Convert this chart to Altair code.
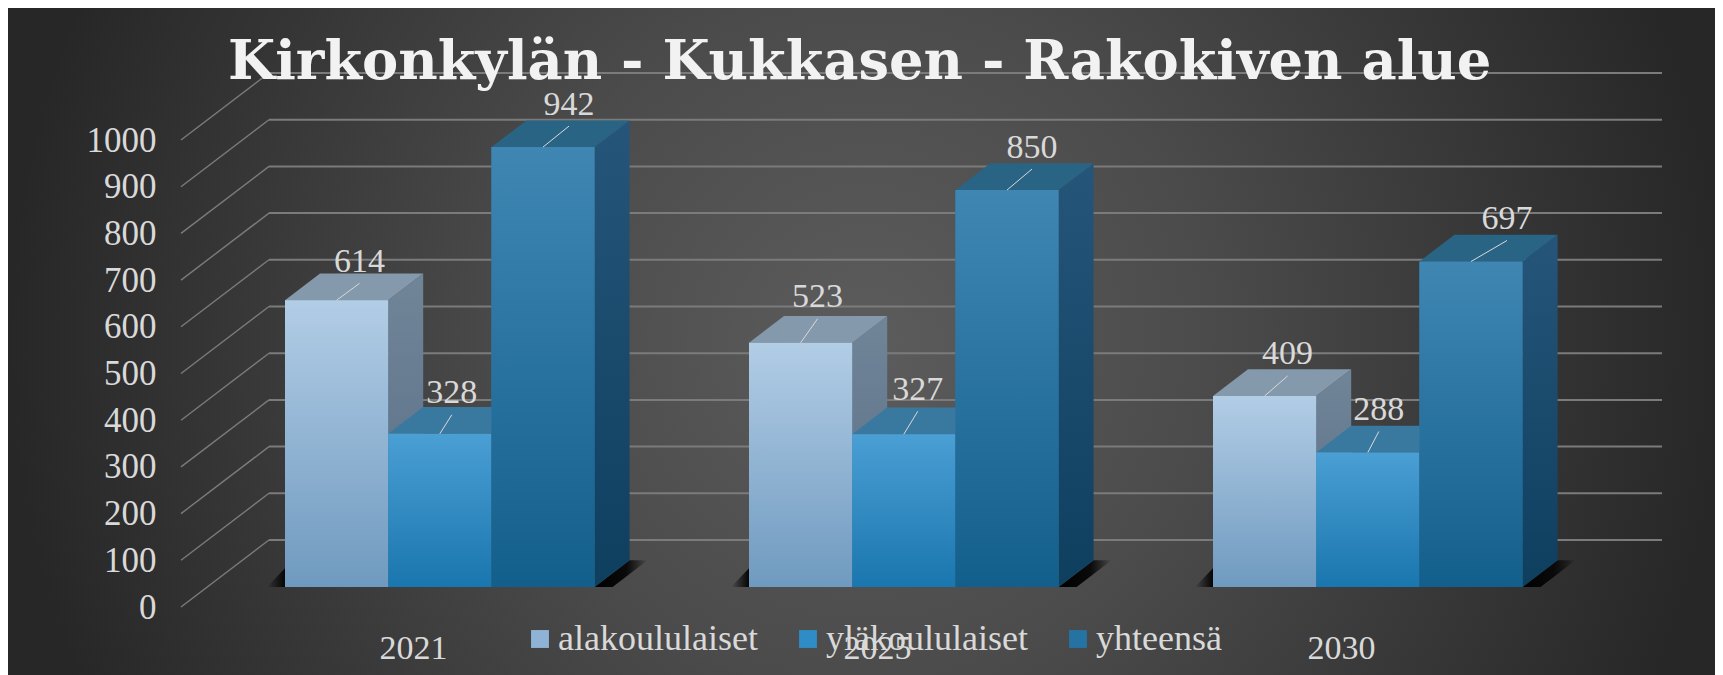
import altair as alt
import pandas as pd

categories = ["2021", "2025", "2030"]
series = ["alakoululaiset", "yläkoululaiset", "yhteensä"]
alakoulu = [614, 523, 409]
ylakoulu = [328, 327, 288]
yhteensa = [942, 850, 697]
ticks = [0, 100, 200, 300, 400, 500, 600, 700, 800, 900, 1000]
values = [alakoulu, ylakoulu, yhteensa]
title_text = "Kirkonkylän - Kukkasen - Rakokiven alue"

W, H = 1707, 667
BG_W = 1715
PX_X = 464.0      # pixels per category step
X0 = 405.0        # pixel of category 0's axis label
PX_V = 0.467      # pixels per value unit
BASE = 579.0      # pixel of the bars' baseline
BAR = 103.2 / PX_X
DX = 35.0 / PX_X
DV = 26.7 / PX_V
GROUP_LEFT = -128.0 / PX_X
BACK = 47.0 / PX_V
FRONT = -20.0 / PX_V
GRID_L, GRID_R = (261 - X0) / PX_X, (1654 - X0) / PX_X
DIAG_L = (173 - X0) / PX_X

x_scale = alt.Scale(domain=[-X0 / PX_X, (W - X0) / PX_X], range=[0, W], nice=False, zero=False)
plane = alt.Scale(domain=[0, 1000], range=[BASE, BASE - 467], nice=False, zero=False)
front_scale = alt.Scale(domain=[0, 1000], range=[599, 132], nice=False, zero=False)
color_scale = alt.Scale(domain=series, range=["#8fb3d6", "#2f8cc4", "#2473a3"])

TXT = "#d9d9d9"
FONT = "Liberation Serif"

def X(f="x", **k):
    return alt.X(f + ":Q", scale=x_scale, axis=None, **k)

def Y(f="y", **k):
    return alt.Y(f + ":Q", scale=plane, axis=None, **k)

def grad(c0, c1):
    return alt.LinearGradient(gradient="linear", x1=0, y1=0, x2=0, y2=1,
                              stops=[alt.GradientStop(offset=0, color=c0), alt.GradientStop(offset=1, color=c1)])

one = pd.DataFrame({"a": [0]})

bg = alt.Chart(one).mark_rect(
    clip=True,
    fill=alt.RadialGradient(gradient="radial", x1=0.5, y1=0.5, x2=0.5, y2=0.5, r1=0, r2=0.5,
                            stops=[alt.GradientStop(offset=0, color="#5c5c5c"),
                                   alt.GradientStop(offset=0.4, color="#4b4b4b"),
                                   alt.GradientStop(offset=1, color="#272727")])
).encode(x=alt.value(0), x2=alt.value(BG_W), y=alt.value(H / 2 - BG_W / 2), y2=alt.value(H / 2 + BG_W / 2))

tick_df = pd.DataFrame({"t": ticks})
grid = alt.Chart(tick_df).transform_calculate(
    y=f"datum.t + {BACK}", x=f"{GRID_L}", x1=f"{GRID_R}"
).mark_rule(color="#7b7b7b", strokeWidth=2).encode(x=X(), x2="x1:Q", y=Y())

diag_rows = []
for t in ticks:
    diag_rows.append({"t": t, "x": DIAG_L, "y": t + FRONT})
    diag_rows.append({"t": t, "x": GRID_L, "y": t + BACK})
diag = alt.Chart(pd.DataFrame(diag_rows)).mark_line(color="#7b7b7b", strokeWidth=1.4).encode(
    x=X(), y=Y(), detail="t:N")

# axis carriers: the real axes
axis_y = alt.Chart(tick_df).mark_point(opacity=0).encode(
    y=alt.Y("t:Q", scale=front_scale,
            axis=alt.Axis(values=ticks, title=None, domain=False, ticks=False, grid=False, offset=-148,
                          labelPadding=0, labelFont=FONT, labelFontSize=35, labelColor=TXT, format="d",
                          labelFlush=False, labelOverlap=False, labelBaseline="middle", zindex=1))
)
cat_df = pd.DataFrame({"i": [0, 1, 2], "y": [0, 0, 0]})
label_expr = "['" + "','".join(categories) + "'][datum.value]"
axis_x = alt.Chart(cat_df).mark_point(opacity=0).encode(
    x=alt.X("i:Q", scale=x_scale,
            axis=alt.Axis(values=[0, 1, 2], title=None, domain=False, ticks=False, grid=False, offset=-44,
                          labelPadding=0, labelFont=FONT, labelFontSize=34, labelColor=TXT, labelExpr=label_expr,
                          labelFlush=False, labelOverlap=False, labelAlign="center", zindex=2)),
    y=Y(),
)

# shadows on the floor
sh_r, sh_l = [], []
SW = 18.0 / PX_X
for i in range(3):
    r = i + GROUP_LEFT + 3 * BAR
    for px, top, bot in [(0, 0, 0), (SW, DV * SW / DX, 0), (DX, DV, DV * (DX - SW) / DX), (DX + SW, DV, DV)]:
        sh_r.append({"g": i, "x": r + px, "y": top, "y2": bot})
    l = i + GROUP_LEFT
    sh_l.append({"g": i, "x": l - 18 / PX_X, "y": 0, "y2": 0})
    sh_l.append({"g": i, "x": l, "y": 40, "y2": 0})
shadow_r = alt.Chart(pd.DataFrame(sh_r)).mark_area(
    fill=alt.LinearGradient(gradient="linear", x1=0, y1=0, x2=1, y2=0,
                            stops=[alt.GradientStop(offset=0, color="#000000"),
                                   alt.GradientStop(offset=0.6, color="#0a0a0a"),
                                   alt.GradientStop(offset=1, color="rgba(0,0,0,0)")])
).encode(x=X(), y=Y(), y2="y2:Q", detail="g:N")
shadow_l = alt.Chart(pd.DataFrame(sh_l)).mark_area(
    fill=alt.LinearGradient(gradient="linear", x1=0, y1=0, x2=1, y2=0,
                            stops=[alt.GradientStop(offset=0, color="rgba(0,0,0,0)"),
                                   alt.GradientStop(offset=1, color="#050505")])
).encode(x=X(), y=Y(), y2="y2:Q", detail="g:N")

front_cols = [("#b2cde6", "#6f9abf"), ("#4a9fd4", "#1a76ae"), ("#3f86b3", "#135f8c")]
side_cols = [("#718598", "#566d86"), ("#2a6f9c", "#1c5c85"), ("#25567a", "#0e3f5f")]
top_cols = ["#8499ac", "#3a799f", "#2a6485"]

bars, sides, tops = [], [], []
for s, vals in enumerate(values):
    for i, v in enumerate(vals):
        l = i + GROUP_LEFT + s * BAR
        r = l + BAR
        bars.append({"cat": categories[i], "series": series[s], "s": s, "i": i, "x": l, "x1": r, "v": v, "zero": 0})
        sides.append({"s": s, "i": i, "x": r, "y": v, "y2": 0})
        sides.append({"s": s, "i": i, "x": r + DX, "y": v + DV, "y2": DV})
        tops.append({"s": s, "i": i, "x": l, "y": v, "y2": v})
        tops.append({"s": s, "i": i, "x": l + DX, "y": v + DV, "y2": v})
        tops.append({"s": s, "i": i, "x": r, "y": v + DV, "y2": v})
        tops.append({"s": s, "i": i, "x": r + DX, "y": v + DV, "y2": v + DV})
bars_df = pd.DataFrame(bars)
sides_df = pd.DataFrame(sides)
tops_df = pd.DataFrame(tops)

solid = alt.Chart(bars_df).mark_rect().encode(
    x=X(), x2="x1:Q", y=Y("v"), y2="zero:Q",
    color=alt.Color("series:N", scale=color_scale, sort=series,
                    legend=alt.Legend(orient="none", legendX=514, legendY=613, direction="horizontal", title=None,
                                      symbolType="square", symbolSize=320, symbolStrokeWidth=0,
                                      labelFont=FONT, labelFontSize=36, labelColor=TXT, columnPadding=32,
                                      labelOffset=0, labelLimit=400, zindex=1, padding=0)),
)

face_layers = []
for s in range(3):
    face_layers.append(alt.Chart(sides_df[sides_df.s == s]).mark_area(fill=grad(*side_cols[s])).encode(
        x=X(), y=Y(), y2="y2:Q", detail="i:N"))
    face_layers.append(alt.Chart(tops_df[tops_df.s == s]).mark_area(fill=top_cols[s]).encode(
        x=X(), y=Y(), y2="y2:Q", detail="i:N"))

front_layers = []
for s in range(3):
    front_layers.append(alt.Chart(bars_df[bars_df.s == s]).mark_rect(fill=grad(*front_cols[s])).encode(
        x=X(), x2="x1:Q", y=Y("v"), y2="zero:Q"))

# leader lines and value labels
leader_dx = [[23, 17, 23], [12, 14, 11], [26, 25, 36]]
leader_dy = [[17, 24, 20], [19, 23, 21], [21, 21, 21]]
LABEL_GAP = 21.5
lead, labs = [], []
for s, vals in enumerate(values):
    for i, v in enumerate(vals):
        c = i + GROUP_LEFT + (s + 0.5) * BAR
        ex = c + leader_dx[s][i] / PX_X
        ey = v + leader_dy[s][i] / PX_V
        lead.append({"k": f"{s}-{i}", "x": c, "y": v})
        lead.append({"k": f"{s}-{i}", "x": ex, "y": ey})
        labs.append({"x": ex, "y": ey + LABEL_GAP / PX_V, "v": v})
leaders = alt.Chart(pd.DataFrame(lead)).mark_line(color="#d9d9d9", strokeWidth=1).encode(x=X(), y=Y(), detail="k:N")
value_labels = alt.Chart(pd.DataFrame(labs)).mark_text(
    font=FONT, fontSize=34, color=TXT, baseline="middle", align="center"
).encode(x=X(), y=Y(), text="v:Q")

chart = alt.layer(
    bg, grid, diag, axis_y, axis_x, shadow_l, shadow_r, solid, *face_layers, *front_layers, leaders, value_labels
).resolve_scale(y="independent").resolve_axis(x="independent").properties(
    width=W, height=H, padding=0, autosize=alt.AutoSizeParams(type="none"),
    title=alt.TitleParams(title_text, font="DejaVu Serif", fontWeight="bold", fontSize=54.3, color="#f2f2f2",
                          anchor="start", frame="group", baseline="alphabetic", offset=-125, dx=220, zindex=1, limit=1700),
).configure_view(stroke=None)

chart.save("out.html", embed_options={"renderer": "svg", "actions": False})
